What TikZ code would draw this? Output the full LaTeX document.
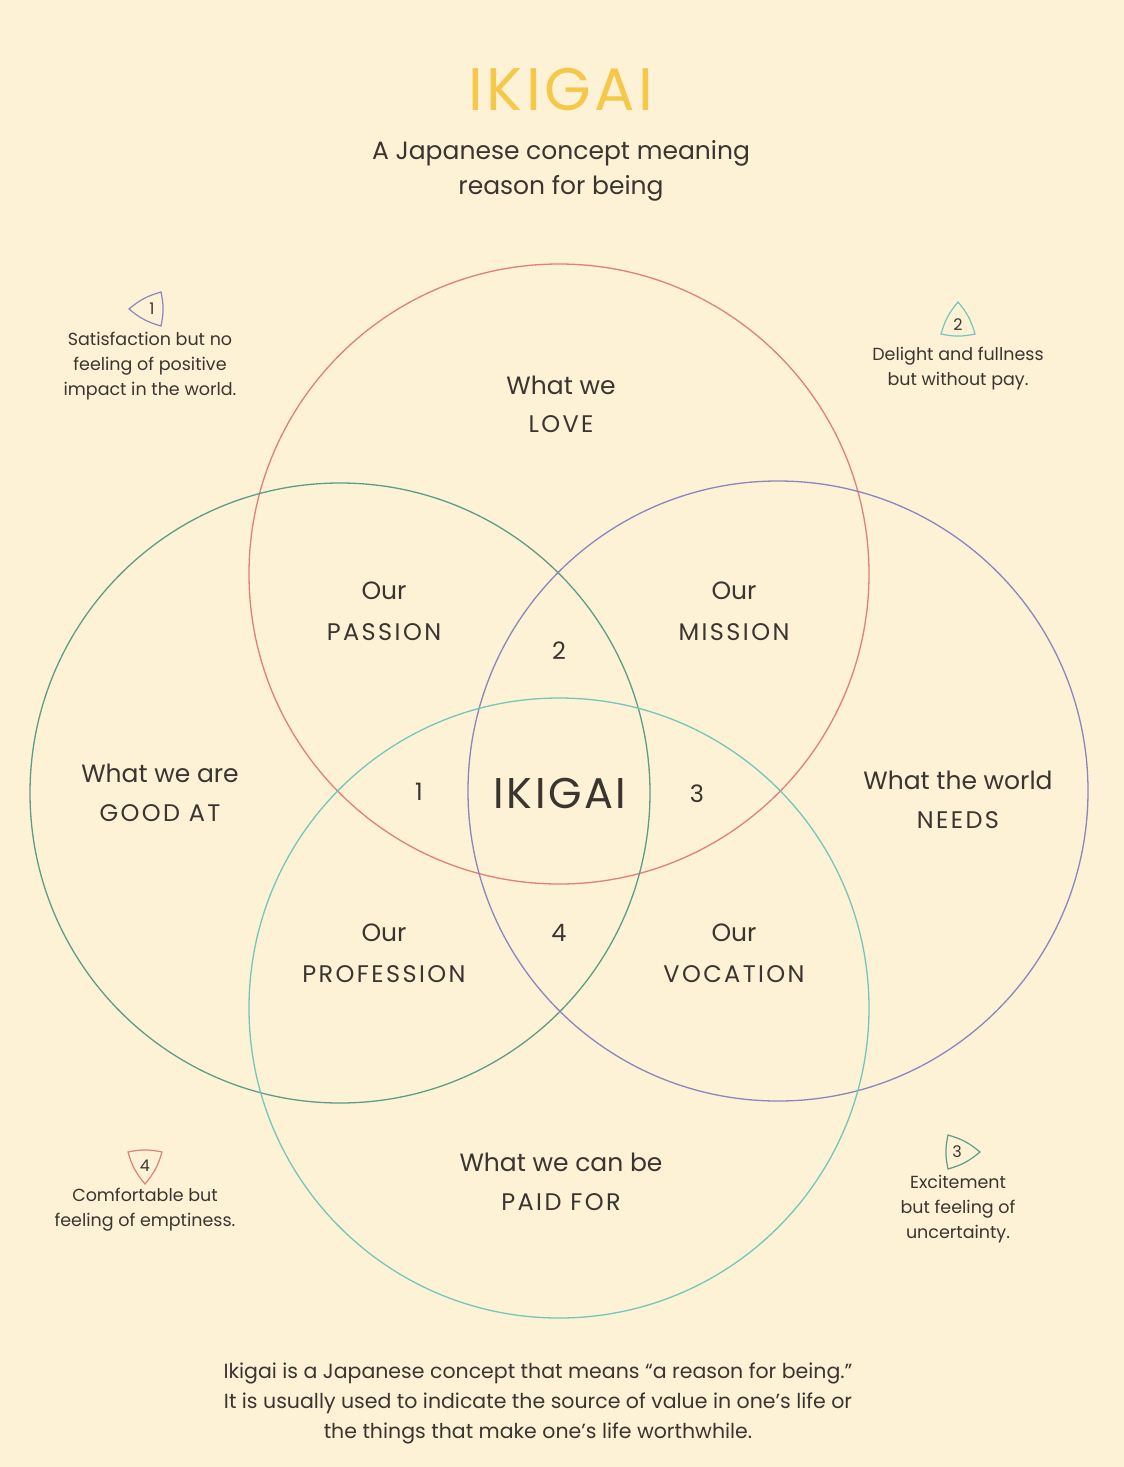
\documentclass[tikz,border=0pt]{standalone}
\usepackage{fontspec}
\setmainfont{Poppins}
\definecolor{bg}{HTML}{FDF2D6}
\definecolor{ttl}{HTML}{F5C84A}
\definecolor{cred}{HTML}{E08078}
\definecolor{cgreen}{HTML}{5E9C88}
\definecolor{cpurple}{HTML}{8A86BE}
\definecolor{cteal}{HTML}{72C6BA}
\definecolor{txt}{HTML}{3A3530}
\tikzset{
 ring/.style={line width=1.3pt},
 lab/.style={text=txt,align=center,font=\fontsize{25}{36}\selectfont},
 caps/.style={text=txt,font=\fontsize{24}{28}\selectfont\addfontfeatures{LetterSpace=10}},
 num/.style={text=txt,font=\fontsize{24}{28}\selectfont},
 note/.style={text=txt,align=center,font=\fontsize{17.5}{25}\selectfont},
 pics/mark/.style={code={\draw[line width=1.2pt,#1] (0,-20) to[bend left=12] (17,12) to[bend left=12] (-17,12) to[bend left=12] cycle;}}
}
\begin{document}
\begin{tikzpicture}[x=1pt,y=-1pt]
\fill[bg] (0,0) rectangle (1124,1467);
\useasboundingbox (0,0) rectangle (1124,1467);
\node[text=ttl,font=\fontsize{60}{64}\selectfont\addfontfeatures{LetterSpace=6}] (title) at (561,90) {IKIGAI};
\node[text=txt,align=center,font=\fontsize{25}{35}\selectfont] (sub) at (561,171) {A Japanese concept meaning\\reason for being};
\draw[ring,cred] (559,574) circle (310);
\draw[ring,cgreen] (340,793) circle (310);
\draw[ring,cpurple] (778,791) circle (310);
\draw[ring,cteal] (559,1008) circle (310);
\node[lab] (love) at (561,385) {What we};
\node[caps] (love2) at (561,424) {LOVE};
\node[lab] (good) at (160,773) {What we are};
\node[caps] (good2) at (160,813) {GOOD AT};
\node[lab] (world) at (958,780) {What the world};
\node[caps] (world2) at (958,820) {NEEDS};
\node[lab] (paid) at (561,1162) {What we can be};
\node[caps] (paid2) at (561,1202) {PAID FOR};
\node[lab] (pa) at (384,591) {Our};
\node[caps] (pa2) at (384,632) {PASSION};
\node[lab] (mi) at (734,591) {Our};
\node[caps] (mi2) at (734,632) {MISSION};
\node[lab] (pr) at (384,933) {Our};
\node[caps] (pr2) at (384,974) {PROFESSION};
\node[lab] (vo) at (734,933) {Our};
\node[caps] (vo2) at (734,974) {VOCATION};
\node[num] (n2) at (559,651) {2};
\node[num] (n1) at (419,792) {1};
\node[num] (n3) at (697,794) {3};
\node[num] (n4) at (559,933) {4};
\node[text=txt,font=\fontsize{43}{46}\selectfont\addfontfeatures{LetterSpace=6}] (center) at (560,793) {IKIGAI};
% markers
\pic[rotate=90] at (149,309) {mark=cpurple};
\node[num,font=\fontsize{16}{18}\selectfont] (m1) at (152,309) {1};
\pic at (958,322) {mark=cteal};
\node[num,font=\fontsize{16}{18}\selectfont] (m2) at (958,325) {2};
\pic[rotate=-90] at (960,1152) {mark=cgreen};
\node[num,font=\fontsize{16}{18}\selectfont] (m3) at (957,1152) {3};
\pic[rotate=180] at (145,1164) {mark=cred};
\node[num,font=\fontsize{16}{18}\selectfont] (m4) at (145,1166) {4};
\node[note] (t1) at (150,366) {Satisfaction but no\\feeling of positive\\impact in the world.};
\node[note] (t2) at (958,369) {Delight and fullness\\but without pay.};
\node[note] (t3) at (958,1209) {Excitement\\but feeling of\\uncertainty.};
\node[note] (t4) at (145,1210) {Comfortable but\\feeling of emptiness.};
\node[text=txt,align=center,font=\fontsize{20.5}{30}\selectfont] (foot) at (538,1403) {Ikigai is a Japanese concept that means “a reason for being.”\\It is usually used to indicate the source of value in one’s life or\\the things that make one’s life worthwhile.};
\end{tikzpicture}
\end{document}
